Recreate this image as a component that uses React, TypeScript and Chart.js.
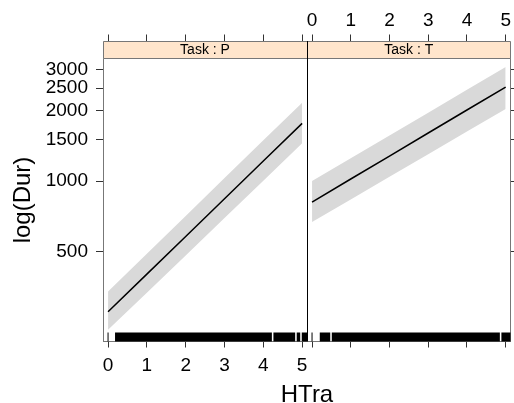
import React, { useEffect, useRef } from 'react';
import { Chart, registerables } from 'chart.js';

Chart.register(...registerables);

const FONT = '"Liberation Sans", Arial, Helvetica, sans-serif';
Chart.defaults.font.family = FONT;

// ---- data ----
const htra = [0, 1, 2, 3, 4, 5];
const fitP = [277, 401, 581, 842, 1220, 1767];
const upperP = [338, 490, 711, 1032, 1497, 2164];
const lowerP = [232, 334, 482, 696, 1005, 1452];
const fitT = [815, 1022, 1281, 1607, 2015, 2525];
const upperT = [1002, 1254, 1569, 1963, 2457, 3074];
const lowerT = [669, 836, 1044, 1305, 1630, 2034];
const xTicks = [0, 1, 2, 3, 4, 5];
const yTicks = [500, 1000, 1500, 2000, 2500, 3000];
const rugP = [[0, 0], [0.18, 4.22], [4.26, 4.82], [4.86, 4.95], [4.99, 5.13]];
const rugT = [[0, 0], [0.2, 0.47], [0.51, 4.85], [4.89, 5.13]];
const panelLabels = ['Task : P', 'Task : T'];
const xTitle = 'HTra';
const yTitle = 'log(Dur)';

const X_MIN = -0.13;
const X_MAX = 5.125;
const Y_MIN = 206.8;
const Y_MAX = 3343;

const BAND = '#D9D9D9';
const STRIP = '#FFE5CC';
const AXIS = '#777777';
const TICK = '#333333';
const STRIP_TOP = 41;

const al = (p: number) => Math.round(p - 0.5) + 0.5;

const panelPlugin = {
  id: 'panel',
  afterDraw(chart: any, _args: any, opts: any) {
    const { ctx } = chart;
    const { left, right, top, bottom } = chart.chartArea;
    const isLeft = opts.side === 'left';
    ctx.save();
    // rug
    const xs = chart.scales.x;
    const rug = isLeft ? rugP : rugT;
    ctx.fillStyle = '#000';
    const rugTop = bottom - 9;
    rug.forEach(([a, b]) => {
      const x1 = Math.max(left, xs.getPixelForValue(a));
      const x2 = Math.min(right, xs.getPixelForValue(b));
      if (a === b) ctx.fillRect(x1 - 0.5, rugTop, 1, bottom - rugTop);
      else ctx.fillRect(x1, rugTop, x2 - x1, bottom - rugTop);
    });
    // strip
    ctx.fillStyle = STRIP;
    ctx.fillRect(left, STRIP_TOP, right - left, top - STRIP_TOP);
    ctx.strokeStyle = AXIS;
    ctx.lineWidth = 1;
    ctx.beginPath();
    ctx.moveTo(al(left), al(STRIP_TOP));
    ctx.lineTo(al(right), al(STRIP_TOP));
    ctx.lineTo(al(right), al(top));
    ctx.lineTo(al(left), al(top));
    ctx.closePath();
    ctx.stroke();
    ctx.fillStyle = '#000';
    ctx.font = '14px ' + FONT;
    ctx.textAlign = 'center';
    ctx.textBaseline = 'middle';
    ctx.fillText(isLeft ? panelLabels[0] : panelLabels[1], (left + right) / 2, (STRIP_TOP + top) / 2 + 0.5);
    if (!isLeft) {
      ctx.strokeStyle = '#000';
      ctx.beginPath();
      ctx.moveTo(al(left), STRIP_TOP);
      ctx.lineTo(al(left), bottom);
      ctx.stroke();
    } else {
      ctx.font = '24px ' + FONT;
      ctx.textAlign = 'center';
      ctx.textBaseline = 'alphabetic';
      ctx.fillStyle = '#000';
      ctx.fillText(xTitle, 307, 402);
    }
    ctx.restore();
  },
};

function makeConfig(side: 'left' | 'right'): any {
  const isLeft = side === 'left';
  const fit = isLeft ? fitP : fitT;
  const upper = isLeft ? upperP : upperT;
  const lower = isLeft ? lowerP : lowerT;
  const pts = (arr: number[]) => htra.map((x, i) => ({ x, y: arr[i] }));
  const font = { family: FONT, size: 19 };
  const setXTicks = (s: any) => { s.ticks = xTicks.map((v) => ({ value: v })); };
  return {
    type: 'line',
    data: {
      datasets: [
        { data: pts(fit), borderWidth: 1.5, borderColor: '#000', pointRadius: 0, fill: false },
        { data: pts(upper), borderWidth: 0, borderColor: 'rgba(0,0,0,0)', pointRadius: 0, fill: '+1', backgroundColor: BAND },
        { data: pts(lower), borderWidth: 0, borderColor: 'rgba(0,0,0,0)', pointRadius: 0, fill: false },
      ],
    },
    options: {
      animation: false,
      responsive: false,
      devicePixelRatio: 1,
      events: [],
      layout: { padding: isLeft ? { left: 0, right: 207, top: 0, bottom: 0 } : { left: 307, right: 0, top: 0, bottom: 0 } },
      plugins: { legend: { display: false }, tooltip: { enabled: false }, panel: { side } },
      scales: {
        x: {
          type: 'linear', position: 'bottom', min: X_MIN, max: X_MAX, bounds: 'data',
          afterBuildTicks: setXTicks,
          afterFit: (s: any) => { s.height = 61.5; },
          grid: { drawOnChartArea: false, drawTicks: true, tickLength: 6, tickColor: TICK },
          border: { color: AXIS },
          ticks: { display: isLeft, font, color: '#000', padding: 7, maxRotation: 0 },
        },
        x2: {
          type: 'linear', position: 'top', min: X_MIN, max: X_MAX, bounds: 'data',
          afterBuildTicks: setXTicks,
          afterFit: (s: any) => { s.height = 58.5; },
          grid: { drawOnChartArea: false, drawTicks: true, tickLength: 24, tickColor: TICK },
          border: { color: AXIS },
          ticks: { display: !isLeft, font, color: '#000', padding: 2, maxRotation: 0 },
        },
        y: {
          type: 'logarithmic', position: isLeft ? 'left' : 'right', min: Y_MIN, max: Y_MAX, bounds: 'data',
          afterBuildTicks: (s: any) => { s.ticks = yTicks.map((v) => ({ value: v })); },
          afterFit: (s: any) => { s.width = isLeft ? 103 : 3.5; },
          grid: { drawOnChartArea: false, drawTicks: true, tickLength: 7, tickColor: TICK },
          border: { color: AXIS },
          ticks: { display: isLeft, font, color: '#000', padding: 8, callback: (v: any) => String(v) },
          title: { display: isLeft, text: yTitle, font: { family: FONT, size: 24 }, color: '#000', padding: { top: 9, bottom: 0 } },
        },
      },
    },
    plugins: [panelPlugin],
  };
}

export default function App() {
  const leftRef = useRef<HTMLCanvasElement>(null);
  const rightRef = useRef<HTMLCanvasElement>(null);
  useEffect(() => {
    const c1 = new Chart(leftRef.current as HTMLCanvasElement, makeConfig('left'));
    const c2 = new Chart(rightRef.current as HTMLCanvasElement, makeConfig('right'));
    return () => { c1.destroy(); c2.destroy(); };
  }, []);
  return (
    <div style={{ position: 'absolute', left: 0, top: 0, width: 514, height: 403, background: '#fff', overflow: 'hidden' }}>
      <canvas ref={leftRef} width={514} height={403} style={{ position: 'absolute', left: 0, top: 0 }} />
      <canvas ref={rightRef} width={514} height={403} style={{ position: 'absolute', left: 0, top: 0 }} />
    </div>
  );
}
